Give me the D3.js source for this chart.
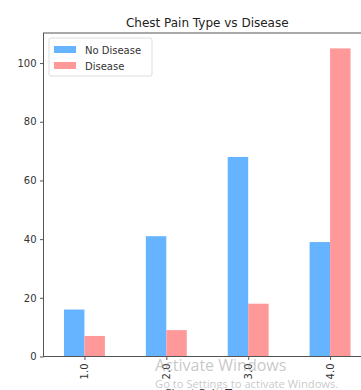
<!DOCTYPE html>
<html>
<head>
<meta charset="utf-8">
<script src="https://cdn.jsdelivr.net/npm/d3@7"></script>
<style>
  html, body { margin: 0; padding: 0; background: #fff; overflow: hidden; }
  svg { display: block; font-family: "DejaVu Sans", sans-serif; }
</style>
</head>
<body>
<svg id="chart" width="361" height="390"></svg>
<script>
// Chest pain type counts split by disease status
const categories = ["1.0", "2.0", "3.0", "4.0"];
const noDisease = [16, 41, 68, 39];
const disease = [7, 9, 18, 105];
const seriesNames = ["No Disease", "Disease"];
const yTicks = [0, 20, 40, 60, 80, 100];

const colors = ["#66b3ff", "#ff9999"];
const svg = d3.select("#chart");

// Plot frame (extends past the right edge of the window)
const frame = { left: 43.5, right: 371, top: 33, bottom: 356.5 };

const x = d3.scaleLinear().domain([-0.5, categories.length - 0.5]).range([frame.left, frame.right]);
const y = d3.scaleLinear().domain([0, d3.max(disease) * 1.05]).range([frame.bottom, frame.top]);
const barW = 0.25;

const series = [noDisease, disease];
series.forEach((vals, s) => {
  svg.append("g").selectAll("rect")
    .data(vals)
    .join("rect")
    .attr("x", (d, i) => x(i - barW + s * barW))
    .attr("width", x(barW) - x(0))
    .attr("y", d => y(d))
    .attr("height", d => y(0) - y(d))
    .attr("fill", colors[s]);
});

// Frame
svg.append("rect")
  .attr("x", frame.left).attr("y", frame.top)
  .attr("width", frame.right - frame.left).attr("height", frame.bottom - frame.top)
  .attr("fill", "none").attr("stroke", "#555").attr("stroke-width", 1);

// Y axis
const yAxis = d3.axisLeft(y).tickValues(yTicks).tickSize(3.5).tickPadding(3.5).tickFormat(d3.format("d"));
const gy = svg.append("g").attr("transform", `translate(${frame.left},0)`).call(yAxis);
gy.select(".domain").remove();
gy.selectAll("line").attr("stroke", "#555");
gy.selectAll("text").attr("fill", "#333").style("font-size", "10px").style("font-family", "DejaVu Sans");

// X axis with rotated labels
const xAxis = d3.axisBottom(x).tickValues(d3.range(categories.length)).tickSize(3.5).tickFormat(i => categories[i]);
const gx = svg.append("g").attr("transform", `translate(0,${frame.bottom})`).call(xAxis);
gx.select(".domain").remove();
gx.selectAll("line").attr("stroke", "#555");
gx.selectAll("text")
  .attr("fill", "#333")
  .style("font-size", "10px").style("font-family", "DejaVu Sans")
  .attr("transform", "rotate(-90)")
  .attr("text-anchor", "end")
  .attr("x", -7).attr("y", 0).attr("dy", "0.35em");

// Title and axis label
svg.append("text")
  .attr("x", (frame.left + frame.right) / 2).attr("y", 27)
  .attr("text-anchor", "middle")
  .attr("fill", "#222")
  .style("font-size", "12px")
  .text("Chest Pain Type vs Disease");

svg.append("text")
  .attr("x", (frame.left + frame.right) / 2).attr("y", 397)
  .attr("text-anchor", "middle")
  .attr("fill", "#333")
  .style("font-size", "11px")
  .text("Chest Pain Type");

// Legend
const lg = svg.append("g").attr("transform", "translate(49,38)");
lg.append("rect").attr("width", 103).attr("height", 38).attr("rx", 2)
  .attr("fill", "#fff").attr("fill-opacity", 0.85).attr("stroke", "#ddd");
seriesNames.forEach((name, i) => {
  lg.append("rect").attr("x", 5).attr("y", 8 + i * 16).attr("width", 22).attr("height", 7).attr("fill", colors[i]);
  lg.append("text").attr("x", 36).attr("y", 12 + i * 16).attr("dy", "0.35em")
    .attr("fill", "#333").style("font-size", "10px").text(name);
});

// Desktop activation notice overlay
svg.append("text").attr("x", 155).attr("y", 371)
  .attr("fill", "#999").attr("fill-opacity", 0.55)
  .style("font-family", "Open Sans, sans-serif").style("font-size", "16px")
  .text("Activate Windows");
svg.append("text").attr("x", 155).attr("y", 388)
  .attr("fill", "#999").attr("fill-opacity", 0.55)
  .style("font-family", "Open Sans, sans-serif").style("font-size", "11.2px")
  .text("Go to Settings to activate Windows.");
</script>
</body>
</html>
